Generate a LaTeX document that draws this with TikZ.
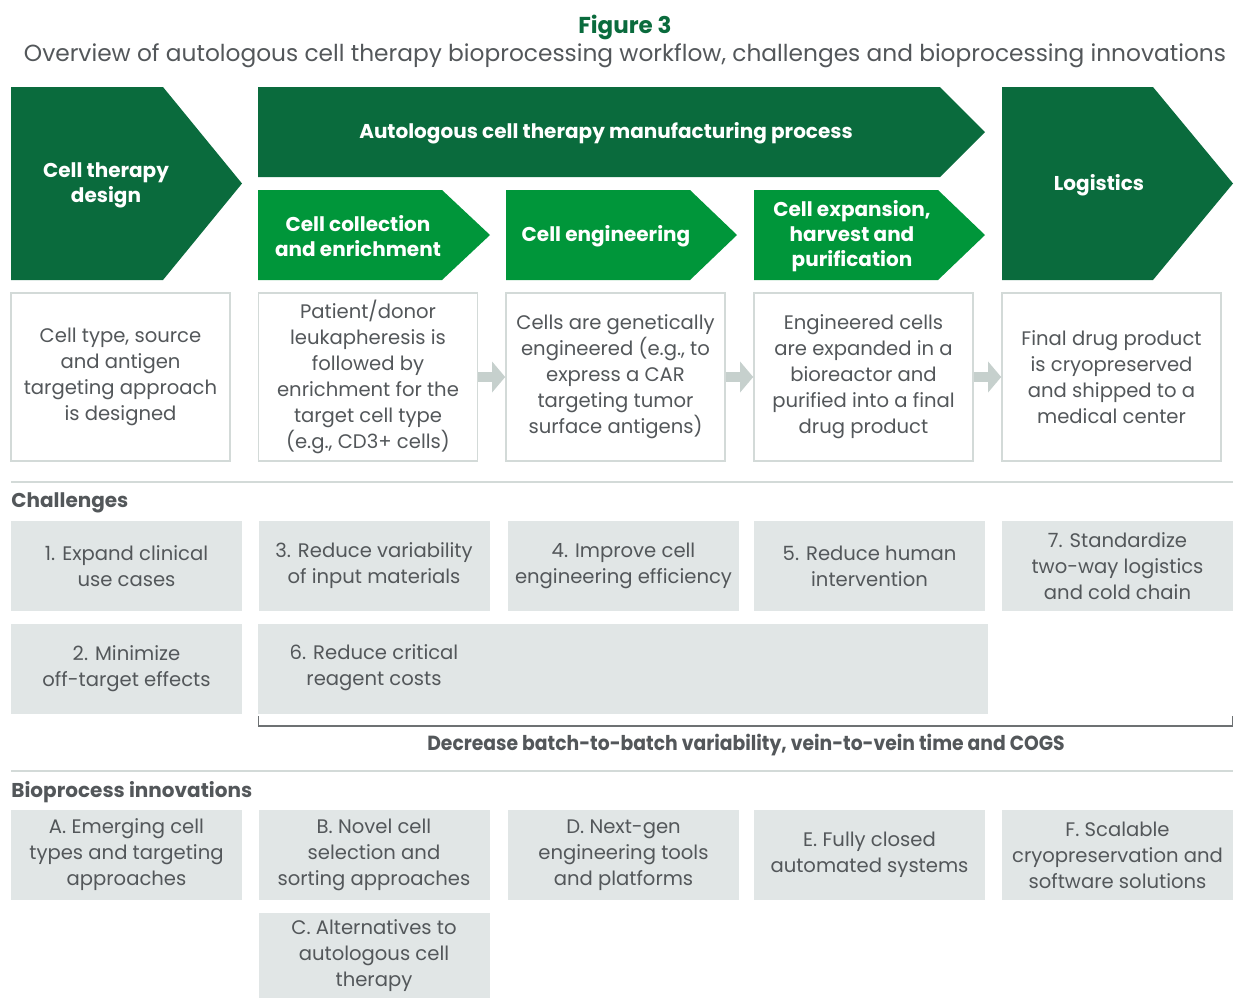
\documentclass[tikz,border=0pt]{standalone}
\usepackage{fontspec}
\setmainfont{Poppins}
\usetikzlibrary{arrows.meta,calc}
\definecolor{dkgreen}{HTML}{0A6B3D}
\definecolor{brgreen}{HTML}{00963A}
\definecolor{boxgrey}{HTML}{E1E6E6}
\definecolor{edgegrey}{HTML}{D3DAD8}
\definecolor{flowgrey}{HTML}{C6D0CD}
\definecolor{txtgrey}{HTML}{53575A}
\definecolor{brkgrey}{HTML}{6D7173}
\begin{document}
\begin{tikzpicture}[x=0.5pt,y=-0.5pt,
  stagetxt/.style={text=white,font=\bfseries\fontsize{10}{12.5}\selectfont,align=center,inner sep=0pt,yshift=-1pt},
  desc/.style={draw=edgegrey,line width=0.8pt,fill=white,text=txtgrey,align=center,
    font=\fontsize{9.8}{13}\selectfont,minimum width=109.5pt,minimum height=84pt,inner sep=0pt},
  cbox/.style={fill=boxgrey,text=txtgrey,align=center,font=\fontsize{9.8}{13}\selectfont,
    minimum width=115.5pt,minimum height=45pt,inner sep=0pt},
  sechead/.style={text=txtgrey,font=\bfseries\fontsize{10}{12}\selectfont,anchor=west,inner sep=0pt,yshift=-1pt},
  rule/.style={draw=edgegrey,line width=0.8pt},
  flow/.style={draw=flowgrey,line width=5pt,-{Triangle[width=15pt,length=6.5pt]}}
]
\useasboundingbox (0,0) rectangle (1238,998);

% heading
\node[text=dkgreen,font=\bfseries\fontsize{11.5}{13}\selectfont,inner sep=0pt] (fig) at (625,27) {Figure 3};
\node[text=txtgrey,font=\fontsize{11.65}{13}\selectfont,inner sep=0pt] (sub) at (625,56)
  {Overview of autologous cell therapy bioprocessing workflow, challenges and bioprocessing innovations};

% stage arrows
\fill[dkgreen] (11,87) -- (163,87) -- (242,183.5) -- (163,280) -- (11,280) -- cycle;
\node[stagetxt] (design) at (106,183) {Cell therapy\\design};
\fill[dkgreen] (258,87) -- (940,87) -- (985,132) -- (940,177) -- (258,177) -- cycle;
\node[stagetxt] (manuf) at (606,131) {Autologous cell therapy manufacturing process};
\fill[brgreen] (258,190) -- (442,190) -- (490,235) -- (442,280) -- (258,280) -- cycle;
\node[stagetxt] (collect) at (358,234) {Cell collection\\and enrichment};
\fill[brgreen] (506,190) -- (690,190) -- (737,235) -- (690,280) -- (506,280) -- cycle;
\node[stagetxt] (engin) at (606,234) {Cell engineering};
\fill[brgreen] (754,190) -- (938,190) -- (985,235) -- (938,280) -- (754,280) -- cycle;
\node[stagetxt] (expand) at (852,234) {Cell expansion,\\harvest and\\purification};
\fill[dkgreen] (1002,87) -- (1153,87) -- (1233,183.5) -- (1153,280) -- (1002,280) -- cycle;
\node[stagetxt] (logis) at (1099,183) {Logistics};

% stage descriptions
\node[desc] (d1) at (120.5,377) {Cell type, source\\and antigen\\targeting approach\\is designed};
\node[desc] (d2) at (368,377) {Patient/donor\\leukapheresis is\\followed by\\enrichment for the\\target cell type\\(e.g., CD3+ cells)};
\node[desc] (d3) at (615.5,377) {Cells are genetically\\engineered (e.g., to\\express a CAR\\targeting tumor\\surface antigens)};
\node[desc] (d4) at (863.5,377) {Engineered cells\\are expanded in a\\bioreactor and\\purified into a final\\drug product};
\node[desc] (d5) at (1111.5,377) {Final drug product\\is cryopreserved\\and shipped to a\\medical center};
\draw[flow] (d2.east) -- (d3.west);
\draw[flow] (d3.east) -- (d4.west);
\draw[flow] (d4.east) -- (d5.west);

% challenges
\draw[rule] (11,482) coordinate (r1a) -- (1233,482) coordinate (r1b);
\node[sechead] (chal) at (11,501) {Challenges};
\node[cbox] (c1) at (126.5,566) {1. Expand clinical\\use cases};
\node[cbox] (c3) at (374,566) {3. Reduce variability\\of input materials};
\node[cbox] (c4) at (623.5,566) {4. Improve cell\\engineering efficiency};
\node[cbox] (c5) at (869.5,566) {5. Reduce human\\intervention};
\node[cbox] (c7) at (1117.5,566) {7. Standardize\\two-way logistics\\and cold chain};
\node[cbox] (c2) at (126.5,669) {2. Minimize\\off-target effects};
\node[cbox,minimum width=365pt] (c6) at (623,669) {};
\node[text=txtgrey,align=center,font=\fontsize{9.8}{13}\selectfont,inner sep=0pt] (c6t) at (374,668) {6. Reduce critical\\reagent costs};

% bracket and outcome
\coordinate (ba) at (258.5,716);
\coordinate (bb) at (1232.5,716);
\draw[brkgrey,line width=0.7pt] (ba) -- ++(0,10) -| (bb);
\node[text=txtgrey,font=\bfseries\fontsize{10.2}{12}\selectfont,inner sep=0pt] (outc) at (746,745)
  {\scalebox{0.92}[1]{Decrease batch-to-batch variability, vein-to-vein time and COGS}};

% innovations
\draw[rule] (11,771) -- (1233,771);
\node[sechead] (innov) at (11,790) {Bioprocess innovations};
\node[cbox] (iA) at (126.5,855) {A. Emerging cell\\types and targeting\\approaches};
\node[cbox] (iB) at (374,855) {B. Novel cell\\selection and\\sorting approaches};
\node[cbox] (iD) at (623.5,855) {D. Next-gen\\engineering tools\\and platforms};
\node[cbox] (iE) at (869.5,855) {E. Fully closed\\automated systems};
\node[cbox] (iF) at (1117.5,855) {F. Scalable\\cryopreservation and\\software solutions};
\node[cbox,minimum height=42.5pt] (iC) at (374,955.5) {C. Alternatives to\\autologous cell\\therapy};
\end{tikzpicture}
\end{document}
